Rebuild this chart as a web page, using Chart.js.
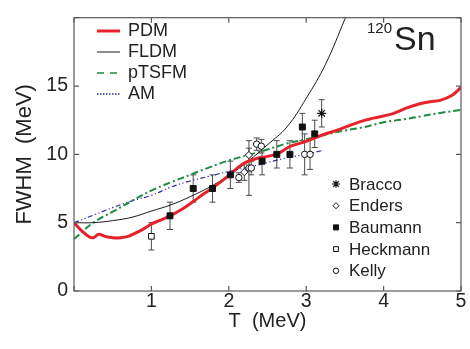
<!DOCTYPE html>
<html><head><meta charset="utf-8">
<script src="https://cdn.jsdelivr.net/npm/chart.js@4/dist/chart.umd.min.js"></script>
<style>html,body{margin:0;padding:0;background:#fff}#wrap{width:470px;height:349px}</style>
</head><body><div id="wrap"><canvas id="c" width="470" height="349"></canvas></div>
<script>
const FONT = '"Liberation Sans", Arial, Helvetica, sans-serif';

// ---- tick labels ----
const xTickValues = [0, 1, 2, 3, 4, 5];
const yTickValues = [0, 5, 10, 15, 20];

// ---- theory curves ----
const pdmT = [0, 0.1, 0.2, 0.25, 0.32, 0.4, 0.5, 0.6, 0.7, 0.8, 0.9, 1.0, 1.1, 1.24, 1.4, 1.54, 1.65, 1.78, 1.9, 2.02, 2.12, 2.23, 2.36, 2.5, 2.64, 2.8, 3.0, 3.2, 3.44, 3.7, 3.87, 4.13, 4.3, 4.47, 4.6, 4.73, 4.88, 5.0];
const pdmW = [5.0, 4.4, 3.95, 3.9, 4.15, 4.0, 3.9, 3.9, 4.0, 4.25, 4.55, 4.9, 5.15, 5.5, 6.0, 6.55, 7.0, 7.5, 8.0, 8.55, 9.05, 9.45, 9.7, 9.85, 10.07, 10.6, 10.95, 11.4, 11.85, 12.4, 12.65, 13.0, 13.4, 13.7, 13.85, 13.95, 14.3, 14.9];

const fldmT = [0, 0.25, 0.5, 0.75, 1.0, 1.25, 1.5, 1.75, 2.0, 2.25, 2.5, 2.75, 3.0, 3.25, 3.5, 3.55];
const fldmW = [5.0, 5.0, 5.15, 5.4, 5.85, 6.3, 6.9, 7.6, 8.45, 9.5, 10.7, 12.0, 14.1, 16.6, 19.9, 20.6];

const ptsfmT = [0, 0.25, 0.5, 0.75, 1.0, 1.25, 1.5, 1.75, 2.0, 2.25, 2.5, 2.75, 3.0, 3.25, 3.5, 3.75, 4.0, 4.25, 4.5, 4.75, 5.0];
const ptsfmW = [3.8, 5.0, 5.8, 6.6, 7.35, 7.95, 8.5, 9.05, 9.55, 9.95, 10.35, 10.8, 11.1, 11.45, 11.75, 12.0, 12.35, 12.55, 12.8, 13.05, 13.25];

const amT = [0, 0.25, 0.5, 0.75, 1.0, 1.25, 1.5, 1.75, 2.0, 2.25, 2.5, 2.75, 3.0, 3.22];
const amW = [5.0, 5.55, 6.1, 6.6, 7.0, 7.6, 8.05, 8.4, 8.75, 9.05, 9.4, 9.75, 10.0, 10.3];

// ---- experimental data ----
const braccoT = [3.2];
const braccoW = [13.0];
const braccoErr = [1.0];

const endersT = [2.2, 2.26];
const endersW = [8.7, 9.95];
const endersErr = [0.6, 0.5];

const baumannT = [1.24, 1.54, 1.79, 2.02, 2.43, 2.62, 2.79, 2.95, 3.11];
const baumannW = [5.5, 7.5, 7.5, 8.5, 9.5, 10.0, 10.0, 12.0, 11.5];
const baumannErr = [1.0, 1.0, 1.0, 1.0, 1.0, 1.0, 1.0, 1.0, 1.0];

const heckmannT = [1.0];
const heckmannW = [4.0];
const heckmannErr = [1.0];

const kellyT = [2.13, 2.26, 2.29, 2.36, 2.42, 2.98, 3.05];
const kellyW = [8.3, 9.0, 9.0, 10.75, 10.6, 10.0, 10.0];
const kellyErr = [0.35, 2.0, 0.5, 0.45, 0.5, 1.5, 1.1];

const pts = (xs, ys) => xs.map((x, i) => ({x: x, y: ys[i]}));

const RED = '#e8222b', BLACK = '#1a1a1a', GREEN = '#1e8a42', BLUE = '#2b2ba0';
const AXIS = '#5a5a5a', TEXT = '#222';

const lineDs = (label, xs, ys, color, width, dash, tension) => ({
  label, data: pts(xs, ys), showLine: true, borderColor: color, backgroundColor: color,
  borderWidth: width, borderDash: dash, pointRadius: 0, pointHoverRadius: 0,
  tension: tension, fill: false, order: 1, isTheory: true
});
const expDs = (label, xs, ys, errs, style, fill, radius, bw) => ({
  label, data: pts(xs, ys), errs: errs, showLine: false, pointStyle: style,
  pointRadius: radius, pointBorderWidth: bw, pointBackgroundColor: fill, pointBorderColor: '#111',
  borderColor: '#111', backgroundColor: fill, order: 0, isExp: true
});

const datasets = [
  lineDs('PDM', pdmT, pdmW, RED, 3, [], 0.35),
  lineDs('FLDM', fldmT, fldmW, BLACK, 1, [], 0.4),
  lineDs('pTSFM', ptsfmT, ptsfmW, GREEN, 2, [7, 3, 2, 3], 0.4),
  lineDs('AM', amT, amW, BLUE, 1.2, [5, 2.5, 1.2, 2.5, 1.2, 2.5], 0.4),
  expDs('Bracco', braccoT, braccoW, braccoErr, 'star', '#111', 4.5, 1.2),
  expDs('Enders', endersT, endersW, endersErr, 'rectRot', '#fff', 3.6, 1),
  expDs('Baumann', baumannT, baumannW, baumannErr, 'rect', '#111', 4.2, 1),
  expDs('Heckmann', heckmannT, heckmannW, heckmannErr, 'rect', '#fff', 4, 1),
  expDs('Kelly', kellyT, kellyW, kellyErr, 'circle', '#fff', 3.2, 1)
];

const errorBars = {
  id: 'errorBars',
  beforeDatasetsDraw(chart) {
    const ctx = chart.ctx, xs = chart.scales.x, ys = chart.scales.y;
    ctx.save();
    ctx.strokeStyle = '#4a4a4a';
    ctx.lineWidth = 1;
    chart.data.datasets.forEach(ds => {
      if (!ds.isExp) return;
      ds.data.forEach((p, i) => {
        const e = ds.errs[i];
        const px = xs.getPixelForValue(p.x);
        const y1 = ys.getPixelForValue(p.y - e), y2 = ys.getPixelForValue(p.y + e);
        ctx.beginPath();
        ctx.moveTo(px, y1); ctx.lineTo(px, y2);
        ctx.moveTo(px - 3, y1); ctx.lineTo(px + 3, y1);
        ctx.moveTo(px - 3, y2); ctx.lineTo(px + 3, y2);
        ctx.stroke();
      });
    });
    ctx.restore();
  }
};

const frame = {
  id: 'frame',
  afterDraw(chart) {
    const ctx = chart.ctx, a = chart.chartArea, xs = chart.scales.x, ys = chart.scales.y;
    ctx.save();
    ctx.strokeStyle = AXIS;
    ctx.lineWidth = 1.2;
    ctx.strokeRect(a.left, a.top, a.right - a.left, a.bottom - a.top);
    ctx.beginPath();
    const L = 5;
    xTickValues.forEach(v => {
      const px = xs.getPixelForValue(v);
      ctx.moveTo(px, a.bottom); ctx.lineTo(px, a.bottom - L);
      ctx.moveTo(px, a.top); ctx.lineTo(px, a.top + L);
    });
    yTickValues.forEach(v => {
      const py = ys.getPixelForValue(v);
      ctx.moveTo(a.left, py); ctx.lineTo(a.left + L, py);
      ctx.moveTo(a.right, py); ctx.lineTo(a.right - L, py);
    });
    ctx.stroke();

    // theory legend (top-left)
    const theory = chart.data.datasets.filter(d => d.isTheory);
    const legendDash = {PDM: [], FLDM: [], pTSFM: [7, 6], AM: [1.5, 1.5]};
    ctx.font = '18px ' + FONT;
    ctx.textBaseline = 'middle';
    ctx.textAlign = 'left';
    theory.forEach((d, i) => {
      const y = 31 + i * 21;
      ctx.beginPath();
      ctx.strokeStyle = d.borderColor;
      ctx.lineWidth = d.label === 'PDM' ? 3 : (d.label === 'FLDM' ? 1 : (d.label === 'AM' ? 1.6 : 1.5));
      ctx.setLineDash(legendDash[d.label]);
      ctx.moveTo(97, y); ctx.lineTo(120, y);
      ctx.stroke();
      ctx.setLineDash([]);
      ctx.fillStyle = TEXT;
      ctx.fillText(d.label, 128, y);
    });

    // experiment legend (bottom-right)
    const exp = chart.data.datasets.filter(d => d.isExp);
    ctx.font = '17px ' + FONT;
    exp.forEach((d, i) => {
      const y = 184 + i * 21.7;
      const opts = {pointStyle: d.pointStyle, radius: d.pointRadius * 0.85, borderWidth: d.pointBorderWidth, rotation: 0};
      ctx.fillStyle = d.pointBackgroundColor;
      ctx.strokeStyle = '#111';
      ctx.lineWidth = d.pointBorderWidth;
      Chart.helpers.drawPoint(ctx, opts, 336, y);
      ctx.fillStyle = TEXT;
      ctx.fillText(d.label, 349, y + 1);
    });

    // nucleus label
    ctx.fillStyle = TEXT;
    ctx.textBaseline = 'alphabetic';
    ctx.textAlign = 'left';
    ctx.font = '15px ' + FONT;
    ctx.fillText('120', 367, 33);
    ctx.font = '34px ' + FONT;
    ctx.fillText('Sn', 394, 50);
    ctx.restore();
  }
};

new Chart(document.getElementById('c'), {
  type: 'scatter',
  data: {datasets},
  options: {
    responsive: false, devicePixelRatio: 1, animation: false,
    layout: {padding: {top: 8, right: 9, left: 0, bottom: 0}},
    plugins: {legend: {display: false}, tooltip: {enabled: false}},
    scales: {
      x: {
        type: 'linear', min: 0, max: 5,
        afterBuildTicks: s => { s.ticks = xTickValues.map(v => ({value: v})); },
        afterFit: s => { s.height = 58; },
        grid: {display: false, drawTicks: false, tickLength: 0}, border: {display: false},
        ticks: {padding: -1, color: TEXT, font: {family: FONT, size: 19.5}, callback: v => (v === 0 ? '' : String(v)), maxRotation: 0},
        title: {display: true, text: 'T  (MeV)', color: TEXT, font: {family: FONT, size: 20}, padding: {top: 0, bottom: 16}}
      },
      y: {
        type: 'linear', min: 0, max: 20,
        afterBuildTicks: s => { s.ticks = yTickValues.map(v => ({value: v})); },
        afterFit: s => { s.width = 74; },
        grid: {display: false, drawTicks: false, tickLength: 0}, border: {display: false},
        ticks: {padding: 6, color: TEXT, font: {family: FONT, size: 19.5}, callback: v => (v === 20 ? '' : String(v))},
        title: {display: true, text: 'FWHM  (MeV)', color: TEXT, font: {family: FONT, size: 22}, padding: {top: 12, bottom: 0}}
      }
    }
  },
  plugins: [errorBars, frame]
});
</script></body></html>
